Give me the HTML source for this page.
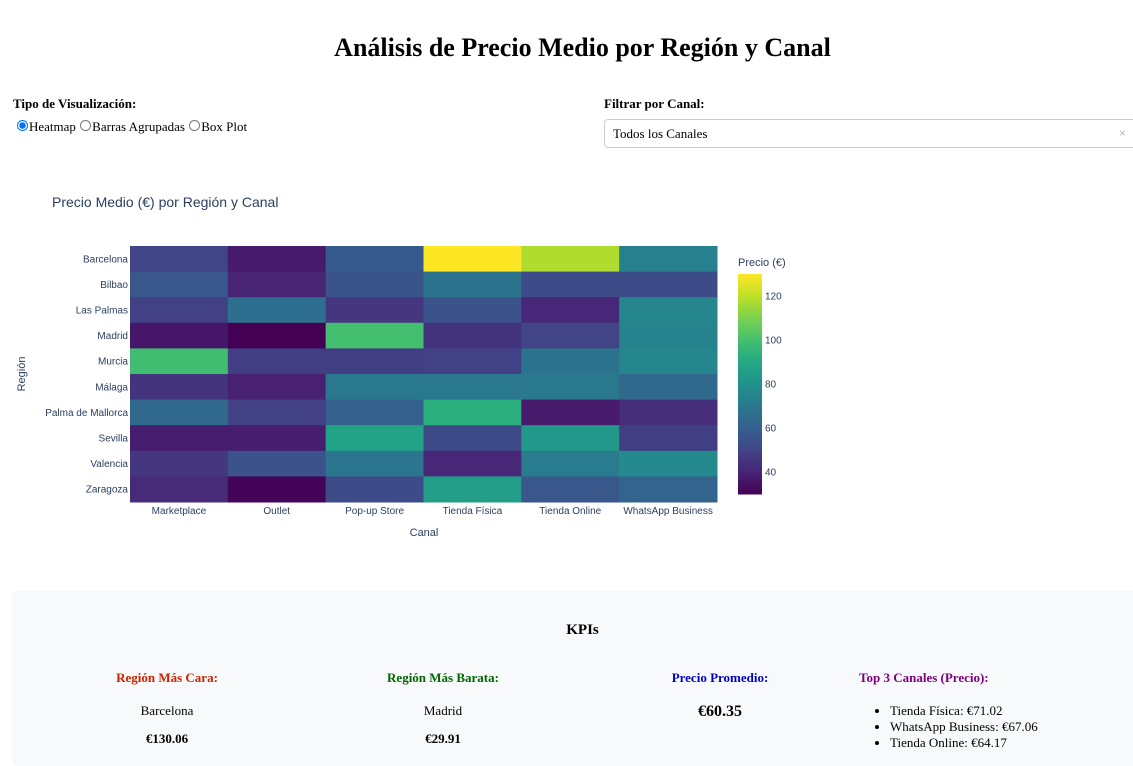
<!DOCTYPE html>
<html><head><meta charset="utf-8">
<style>
body{margin:0;width:1133px;height:760px;overflow:hidden;background:#fff;font-family:"Liberation Serif",serif;position:relative}
.abs{position:absolute}
h1{position:absolute;left:0;width:1165px;top:33px;margin:0;text-align:center;font-size:26px;font-weight:bold}
.lbl{font-weight:bold;font-size:13px}
.kpi{position:absolute;left:12px;top:591px;width:1130px;height:175px;background:#f8f9fa;border-radius:6px}
.kt{position:absolute;font-weight:bold;font-size:13px;text-align:center;width:240px}
.kv{position:absolute;font-size:13px;text-align:center;width:240px}
svg text{font-family:"Liberation Sans",sans-serif;fill:#2a3f5f}
</style></head><body>
<h1>Análisis de Precio Medio por Región y Canal</h1>
<div class="abs lbl" style="left:13px;top:96px">Tipo de Visualización:</div>
<div class="abs" style="left:16px;top:119px;font-size:13px">
<label><input type="radio" name="v" checked style="margin:0 1px 0 1px;width:11px;height:11px">Heatmap</label>
<label><input type="radio" name="v" style="margin:0 1px;width:11px;height:11px">Barras Agrupadas</label>
<label><input type="radio" name="v" style="margin:0 1px;width:11px;height:11px">Box Plot</label>
</div>
<div class="abs lbl" style="left:604px;top:96px">Filtrar por Canal:</div>
<div class="abs" style="left:604px;top:119px;width:540px;height:27px;border:1px solid #ccc;border-radius:4px;font-size:13px;line-height:27px"><span style="margin-left:8px">Todos los Canales</span><span style="position:absolute;left:514px;color:#999;font-size:12px">×</span></div>

<svg class="abs" style="left:0;top:180px" width="1133" height="380">
<text x="52" y="27" font-size="14" style="fill:#2a3f5f">Precio Medio (€) por Región y Canal</text>
<g id="cells"></g><g id="yt"></g><g id="xt"></g><g id="cb"></g>
<text transform="translate(25,194) rotate(-90)" font-size="11" text-anchor="middle">Región</text>
<text x="424" y="356" font-size="11" text-anchor="middle">Canal</text>
<text x="738" y="86" font-size="11">Precio (€)</text>
</svg>

<div class="kpi"></div>
<div class="abs" style="left:0;width:1165px;top:622px;text-align:center;font-weight:bold;font-size:15px">KPIs</div>
<div class="kt" style="left:47px;top:670px;color:#cc2200">Región Más Cara:</div>
<div class="kv" style="left:47px;top:703px">Barcelona</div>
<div class="kv" style="left:47px;top:731px;font-weight:bold">€130.06</div>
<div class="kt" style="left:323px;top:670px;color:#006600">Región Más Barata:</div>
<div class="kv" style="left:323px;top:703px">Madrid</div>
<div class="kv" style="left:323px;top:731px;font-weight:bold">€29.91</div>
<div class="kt" style="left:600px;top:670px;color:#0000cc">Precio Promedio:</div>
<div class="kv" style="left:600px;top:703px;font-weight:bold;font-size:16px">€60.35</div>
<div class="abs" style="left:859px;top:670px;color:#800080;font-weight:bold;font-size:13px">Top 3 Canales (Precio):</div>
<ul class="abs" style="left:850px;top:703px;margin:0;padding-left:40px;font-size:13px;line-height:16px">
<li>Tienda Física: €71.02</li>
<li>WhatsApp Business: €67.06</li>
<li>Tienda Online: €64.17</li>
</ul>

<script>
const channels=["Marketplace","Outlet","Pop-up Store","Tienda Física","Tienda Online","WhatsApp Business"];
const regions=["Barcelona","Bilbao","Las Palmas","Madrid","Murcia","Málaga","Palma de Mallorca","Sevilla","Valencia","Zaragoza"];
const values=[
[50,37,58,130.06,118,73],
[57,40,56,68,53,53],
[49,66,46,55,41,76],
[36,29.91,100,45,50,74],
[99,48,48,49,68,76],
[45,39,70,70,70,64],
[64,49,60,93,37,43],
[38,38,88,52,83,48],
[46,55,69,41,71,77],
[42,31,53,85,57,62]];
const cbTicks=[40,60,80,100,120];
const zmin=29.91,zmax=130.06;
const X0=130,X1=717,Y0=66,Y1=322;
const CBX=738,CBW=24,CBY0=94,CBY1=314;
const vir=["#440154","#482475","#414487","#355f8d","#2a788e","#21918c","#22a884","#44bf70","#7ad151","#bddf26","#fde725"];
function hx(c){return[1,3,5].map(i=>parseInt(c.substr(i,2),16));}
function color(v){let t=Math.max(0,Math.min(1,(v-zmin)/(zmax-zmin)))*10;let i=Math.min(9,Math.floor(t)),f=t-i;
 const a=hx(vir[i]),b=hx(vir[i+1]);return"rgb("+a.map((x,k)=>Math.round(x+(b[k]-x)*f)).join(",")+")";}
const cw=(X1-X0)/channels.length, rh=(Y1-Y0)/regions.length;
function xs(i){return X0+i*cw;} function ys(j){return Y0+j*rh;}
function cbY(v){return CBY1-(v-zmin)/(zmax-zmin)*(CBY1-CBY0);}
const NS="http://www.w3.org/2000/svg";
function mk(t,a,p){const e=document.createElementNS(NS,t);for(const k in a)e.setAttribute(k,a[k]);p.appendChild(e);return e;}
const cells=document.getElementById('cells');
values.forEach((row,j)=>row.forEach((v,i)=>{
 const r=mk('rect',{x:xs(i),y:ys(j),width:cw+0.5,height:rh+0.5,fill:color(v)},cells);
 
 
}));
const yt=document.getElementById('yt');
regions.forEach((r,j)=>{const t=mk('text',{x:X0-2,y:ys(j)+rh/2+3.5,'font-size':10,'text-anchor':'end'},yt);t.textContent=r;
 
 });
const xt=document.getElementById('xt');
channels.forEach((c,i)=>{const t=mk('text',{x:xs(i)+cw/2,y:Y1+12,'font-size':10,'text-anchor':'middle'},xt);t.textContent=c;
 
 });
const cb=document.getElementById('cb');
for(let k=0;k<60;k++){const v0=zmin+(zmax-zmin)*k/60,v1=zmin+(zmax-zmin)*(k+1)/60;
 const r=mk('rect',{x:CBX,y:cbY(v1),width:CBW,height:cbY(v0)-cbY(v1)+0.5,fill:color((v0+v1)/2)},cb);
 
 }
cbTicks.forEach(v=>{const t=mk('text',{x:CBX+CBW+3,y:cbY(v)+3.5,'font-size':10},cb);t.textContent=v;
 
 });
</script>
</body></html>
